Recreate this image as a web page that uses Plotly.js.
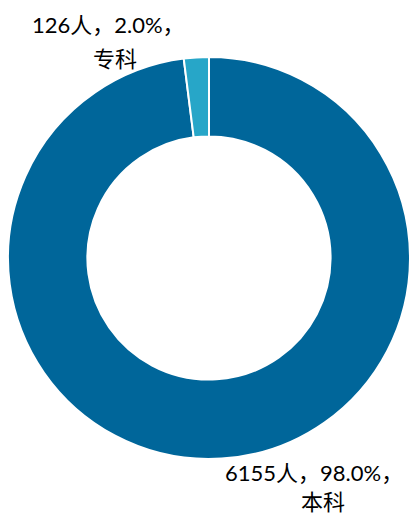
<!DOCTYPE html>
<html>
<head>
<meta charset="utf-8">
<script src="https://cdn.plot.ly/plotly-3.0.1.min.js"></script>
<style>html,body{margin:0;padding:0;background:#fff;}#chart{width:410px;height:515px;}</style>
</head>
<body>
<div id="chart"></div>
<script>
const categories = ['本科', '专科'];
const counts = [6155, 126];
const colors = ['#00669A', '#27A6C8'];

const total = counts.reduce((a, b) => a + b, 0);
const pct = counts.map(v => (v / total * 100).toFixed(1) + '%');
const line1 = counts.map((v, i) => v + '人，' + pct[i] + '，');

const fontFam = 'Lato, "Noto Sans CJK SC", sans-serif';
const f = {family: fontFam, size: 22, color: '#000'};

const data = [{
  type: 'pie',
  values: counts,
  labels: categories,
  sort: false,
  direction: 'clockwise',
  rotation: 0,
  hole: 0.605,
  textinfo: 'none',
  hoverinfo: 'none',
  showlegend: false,
  marker: {colors: colors, line: {color: '#ffffff', width: 2}},
  domain: {x: [8/410, 1], y: [1 - 459/515, 1 - 57/515]}
}];

const layout = {
  width: 410, height: 515,
  margin: {l: 0, r: 0, t: 0, b: 0},
  paper_bgcolor: '#fff',
  annotations: [
    {xref: 'paper', yref: 'paper', x: 108/410, y: 1 - 24/515, xanchor: 'center', yanchor: 'middle', showarrow: false, text: line1[1], font: f},
    {xref: 'paper', yref: 'paper', x: 115/410, y: 1 - 58/515, xanchor: 'center', yanchor: 'middle', showarrow: false, text: categories[1], font: f},
    {xref: 'paper', yref: 'paper', x: 314/410, y: 1 - 472/515, xanchor: 'center', yanchor: 'middle', showarrow: false, text: line1[0], font: f},
    {xref: 'paper', yref: 'paper', x: 323/410, y: 1 - 501/515, xanchor: 'center', yanchor: 'middle', showarrow: false, text: categories[0], font: f}
  ]
};

Plotly.newPlot('chart', data, layout, {displayModeBar: false, staticPlot: true});
</script>
</body>
</html>
